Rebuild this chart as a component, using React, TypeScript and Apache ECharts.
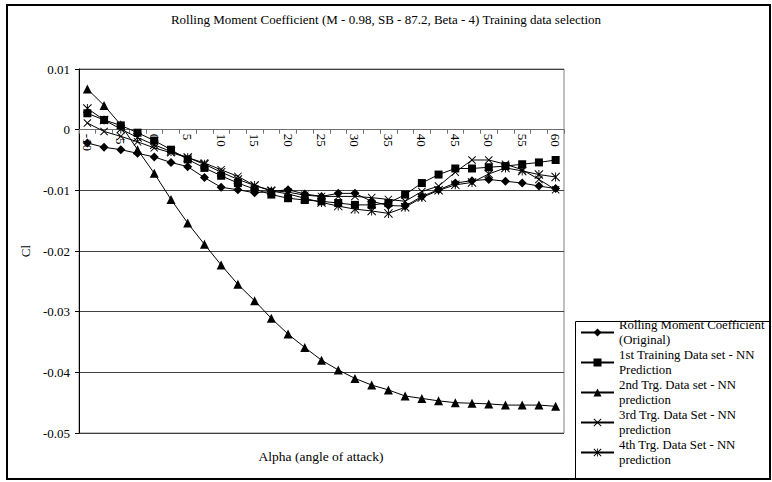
import React, { useEffect, useRef } from 'react';
import * as echarts from 'echarts';

const alpha = ['-10', '-7.5', '-5', '-2.5', '0', '2.5', '5', '7.5', '10', '12.5', '15', '17.5', '20', '22.5', '25', '27.5', '30', '32.5', '35', '37.5', '40', '42.5', '45', '47.5', '50', '52.5', '55', '57.5', '60'];

const original = [-0.0022, -0.0029, -0.0033, -0.0039, -0.0045, -0.0054, -0.0061, -0.0079, -0.0095, -0.0099, -0.0104, -0.0102, -0.0099, -0.0106, -0.0110, -0.0105, -0.0105, -0.0118, -0.0125, -0.0126, -0.0110, -0.0099, -0.0088, -0.0084, -0.0082, -0.0085, -0.0088, -0.0093, -0.0097];
const firstSet = [0.0027, 0.0016, 0.0007, -0.0005, -0.0018, -0.0033, -0.0049, -0.0063, -0.0076, -0.0088, -0.0098, -0.0107, -0.0113, -0.0116, -0.0118, -0.0121, -0.0124, -0.0124, -0.0121, -0.0107, -0.0088, -0.0074, -0.0064, -0.0064, -0.0062, -0.0060, -0.0057, -0.0054, -0.0050];
const secondSet = [0.0067, 0.0040, 0.0008, -0.0033, -0.0072, -0.0115, -0.0154, -0.0189, -0.0223, -0.0255, -0.0282, -0.0311, -0.0337, -0.0359, -0.0380, -0.0396, -0.0410, -0.0421, -0.0429, -0.0439, -0.0443, -0.0447, -0.0450, -0.0451, -0.0452, -0.0454, -0.0454, -0.0454, -0.0456];
const thirdSet = [0.0011, -0.0003, -0.0011, -0.0020, -0.0030, -0.0038, -0.0046, -0.0055, -0.0066, -0.0077, -0.0092, -0.0100, -0.0103, -0.0108, -0.0110, -0.0110, -0.0110, -0.0112, -0.0115, -0.0118, -0.0102, -0.0093, -0.0070, -0.0050, -0.0050, -0.0057, -0.0066, -0.0082, -0.0099];
const fourthSet = [0.0035, 0.0016, 0.0001, -0.0013, -0.0025, -0.0036, -0.0046, -0.0057, -0.0070, -0.0082, -0.0092, -0.0101, -0.0106, -0.0113, -0.0120, -0.0126, -0.0131, -0.0134, -0.0138, -0.0128, -0.0112, -0.0100, -0.0091, -0.0087, -0.0073, -0.0063, -0.0068, -0.0074, -0.0078];

const seriesNames = [
  'Rolling Moment Coefficient (Original)',
  '1st Training Data set - NN Prediction',
  '2nd Trg. Data set - NN prediction',
  '3rd Trg. Data Set - NN prediction',
  '4th Trg. Data Set - NN prediction',
];
const legendLines = [
  'Rolling Moment Coefficient\n(Original)',
  '1st Training Data set - NN\nPrediction',
  '2nd Trg. Data set - NN\nprediction',
  '3rd Trg. Data Set - NN\nprediction',
  '4th Trg. Data Set - NN\nprediction',
];

const titleText = 'Rolling Moment Coefficient (M - 0.98, SB - 87.2, Beta - 4) Training data selection';
const xName = 'Alpha (angle of attack)';
const yName = 'Cl';

const Y_MIN = -0.05;
const Y_MAX = 0.01;

const FONT = 'Liberation Serif';
const X_D = 'M0,0.8L0.8,0L5,4.2L9.2,0L10,0.8L5.8,5L10,9.2L9.2,10L5,5.8L0.8,10L0,9.2L4.2,5Z';
const X_SYMBOL = 'path://' + X_D;
const STAR_SYMBOL = 'path://' + X_D + 'M4.5,0L5.5,0L5.5,10L4.5,10Z';

const seriesData = [original, firstSet, secondSet, thirdSet, fourthSet];
const symbols = ['diamond', 'rect', 'triangle', X_SYMBOL, STAR_SYMBOL];
const symbolSizes = [9, 8, 9, 8, 9];

const GRID_TOP = 69;
const GRID_H = 364;

export default function App() {
  const ref = useRef<HTMLDivElement>(null);
  useEffect(() => {
    const chart = echarts.init(ref.current!, undefined, { renderer: 'svg' });
    // place the category axis on the zero line of the value axis
    const zeroOffset = -GRID_H * (0 - Y_MIN) / (Y_MAX - Y_MIN);
    const option: any = {
      animation: false,
      backgroundColor: '#fff',
      title: {
        text: titleText,
        left: 'center',
        top: 8,
        textStyle: { fontFamily: FONT, fontSize: 13, fontWeight: 'normal', color: '#000' },
      },
      grid: {
        left: 79, right: 208, top: GRID_TOP, height: GRID_H,
        show: true, borderColor: '#808080', borderWidth: 1,
      },
      legend: {
        orient: 'vertical',
        left: 580,
        top: 310,
        padding: 0,
        itemWidth: 33,
        itemHeight: 10,
        itemGap: -15,
        selectedMode: false,
        data: seriesNames,
        formatter: (n: string) => legendLines[seriesNames.indexOf(n)],
        textStyle: { fontFamily: FONT, fontSize: 12.8, color: '#000', lineHeight: 15, padding: [15, 0, 0, 0] },
      },
      xAxis: {
        type: 'category',
        data: alpha,
        boundaryGap: true,
        position: 'bottom',
        offset: zeroOffset,
        axisLine: { onZero: false, lineStyle: { color: '#707070', width: 1 } },
        axisTick: { show: true, interval: 0, length: 4, lineStyle: { color: '#707070' } },
        axisLabel: { interval: 1, rotate: -90, margin: 4, fontFamily: FONT, fontSize: 13, color: '#000' },
        splitLine: { show: false },
      },
      yAxis: {
        type: 'value',
        min: Y_MIN,
        max: Y_MAX,
        interval: 0.01,
        name: yName,
        nameLocation: 'middle',
        nameRotate: 90,
        nameGap: 44,
        nameTextStyle: { fontFamily: FONT, fontSize: 13, color: '#000' },
        axisLine: { show: true, onZero: false, lineStyle: { color: '#000', width: 1 } },
        axisTick: { show: true, length: 4, lineStyle: { color: '#000' } },
        axisLabel: {
          margin: 9, fontFamily: FONT, fontSize: 13, color: '#000',
          formatter: (v: number) => String(Math.round(v * 100) / 100),
        },
        splitLine: { show: true, lineStyle: { color: '#404040', width: 1 } },
      },
      graphic: [
        {
          type: 'rect',
          shape: { x: 7, y: 5, width: 763, height: 474 },
          style: { fill: 'none', stroke: '#000', lineWidth: 2 },
          silent: true,
        },
        {
          type: 'rect',
          shape: { x: 575.5, y: 321.5, width: 195, height: 158 },
          style: { fill: 'none', stroke: '#000', lineWidth: 1 },
          silent: true,
        },
        {
          type: 'text',
          x: 321,
          y: 456,
          style: { text: xName, fontFamily: FONT, fontSize: 13.5, fill: '#000', align: 'center', verticalAlign: 'middle' },
          silent: true,
        },
      ],
      series: seriesData.map((d, i) => ({
        type: 'line',
        name: seriesNames[i],
        data: d,
        symbol: symbols[i],
        symbolSize: symbolSizes[i],
        showSymbol: true,
        showAllSymbol: true,
        lineStyle: { color: '#000', width: 1 },
        itemStyle: { color: '#000' },
        emphasis: { disabled: true },
        z: 2 + i,
      })),
    };
    chart.setOption(option);
    return () => chart.dispose();
  }, []);
  return <div ref={ref} style={{ position: 'fixed', left: 0, top: 0, width: 772, height: 482, background: '#fff' }} />;
}
